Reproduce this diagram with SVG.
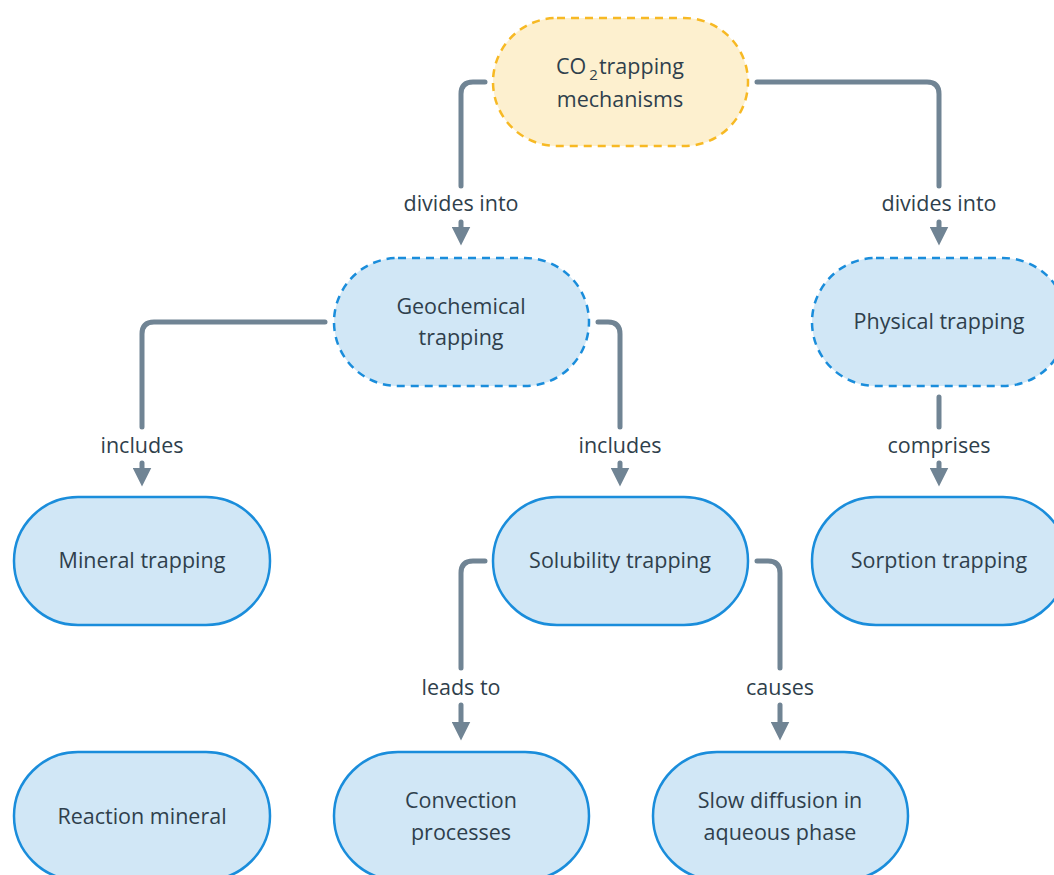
<svg xmlns="http://www.w3.org/2000/svg" width="1054" height="875" viewBox="0 0 1054 875">
<style>
.node{fill:#d1e7f6;stroke:#1a8ddb;stroke-width:2.5}
.dash{stroke-dasharray:8 6}
.top{fill:#fdf0cf;stroke:#f7b924;stroke-width:2.5;stroke-dasharray:8 6}
.t{font-family:"Open Sans","DejaVu Sans",sans-serif;font-size:21.5px;fill:#2f3f4c;text-anchor:middle}
.lbl{font-family:"Open Sans","DejaVu Sans",sans-serif;font-size:21.5px;fill:#2f3f4c;text-anchor:middle}
.c{fill:none;stroke:#708494;stroke-width:5;stroke-linecap:round;stroke-linejoin:round}
</style>
<defs>
<marker id="ah" viewBox="0 0 10 10" refX="5" refY="5" markerWidth="3.8" markerHeight="3.8" orient="auto" markerUnits="strokeWidth">
<path d="M0,0 L10,5 L0,10 z" fill="#708494"/>
</marker>
</defs>
<rect width="1054" height="875" fill="#ffffff"/>
<g id="connectors">
<path class="c" d="M485,82 H473 Q461,82 461,94 V186"/>
<path class="c" d="M461,222 V236" marker-end="url(#ah)"/>
<text class="lbl" x="461" y="211">divides into</text>
<path class="c" d="M757,82 H927 Q939,82 939,94 V186"/>
<path class="c" d="M939,222 V236" marker-end="url(#ah)"/>
<text class="lbl" x="939" y="211">divides into</text>
<path class="c" d="M325,322 H154 Q142,322 142,334 V427"/>
<path class="c" d="M142,463 V477" marker-end="url(#ah)"/>
<text class="lbl" x="142" y="453">includes</text>
<path class="c" d="M598,322 H608 Q620,322 620,334 V427"/>
<path class="c" d="M620,463 V477" marker-end="url(#ah)"/>
<text class="lbl" x="620" y="453">includes</text>
<path class="c" d="M939,397 V427"/>
<path class="c" d="M939,463 V477" marker-end="url(#ah)"/>
<text class="lbl" x="939" y="453">comprises</text>
<path class="c" d="M485,561 H473 Q461,561 461,573 V668"/>
<path class="c" d="M461,705 V731" marker-end="url(#ah)"/>
<text class="lbl" x="461" y="695">leads to</text>
<path class="c" d="M757,561 H768 Q780,561 780,573 V668"/>
<path class="c" d="M780,705 V731" marker-end="url(#ah)"/>
<text class="lbl" x="780" y="695">causes</text>
</g>
<g id="n-co2">
<rect class="top" x="493" y="18" width="255" height="128" rx="64"/>
<text class="t" x="620" y="74">CO<tspan font-size="15" dy="6" dx="3">2</tspan><tspan dy="-6" dx="1">trapping</tspan></text>
<text class="t" x="620" y="107">mechanisms</text>
</g>
<g id="n-geochemical">
<rect class="node dash" x="334" y="258" width="255" height="128" rx="64"/>
<text class="t" x="461" y="314">Geochemical</text>
<text class="t" x="461" y="345">trapping</text>
</g>
<g id="n-physical">
<rect class="node dash" x="812" y="258" width="255" height="128" rx="64"/>
<text class="t" x="939" y="329">Physical trapping</text>
</g>
<g id="n-mineral">
<rect class="node" x="14" y="497" width="256" height="128" rx="64"/>
<text class="t" x="142" y="568">Mineral trapping</text>
</g>
<g id="n-solubility">
<rect class="node" x="493" y="497" width="255" height="128" rx="64"/>
<text class="t" x="620" y="568">Solubility trapping</text>
</g>
<g id="n-sorption">
<rect class="node" x="812" y="497" width="255" height="128" rx="64"/>
<text class="t" x="939" y="568">Sorption trapping</text>
</g>
<g id="n-reaction">
<rect class="node" x="14" y="752" width="256" height="128" rx="64"/>
<text class="t" x="142" y="824">Reaction mineral</text>
</g>
<g id="n-convection">
<rect class="node" x="334" y="752" width="255" height="128" rx="64"/>
<text class="t" x="461" y="808">Convection</text>
<text class="t" x="461" y="840">processes</text>
</g>
<g id="n-diffusion">
<rect class="node" x="653" y="752" width="255" height="128" rx="64"/>
<text class="t" x="780" y="808">Slow diffusion in</text>
<text class="t" x="780" y="840">aqueous phase</text>
</g>
</svg>
